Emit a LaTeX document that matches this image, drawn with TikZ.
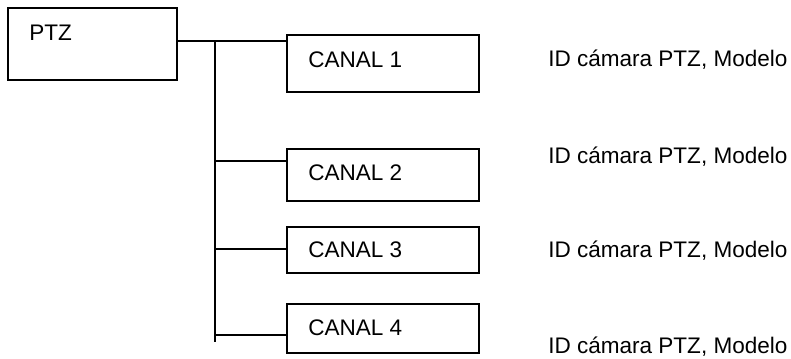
\documentclass[tikz,border=0pt]{standalone}
\usepackage{fontspec}
\setmainfont{Liberation Sans}
\newcommand{\fuente}{\fontsize{16.9pt}{20pt}\selectfont}
\tikzset{
  caja/.style={draw, line width=1.4pt, inner sep=0pt, minimum width=144pt},
  texto/.style={anchor=base west, inner sep=0.75pt, font=\fuente}
}
\begin{document}
\begin{tikzpicture}[x=0.75pt,y=0.75pt,yscale=-1,xscale=1]
    \useasboundingbox (0,0) rectangle (791,358);
    % cajas
    \node [caja, minimum width=126.75pt, minimum height=54pt] (ptz) at (92.5,44) {};
    \node [caja, minimum height=42.75pt] (canal1) at (383,63.5) {};
    \node [caja, minimum height=39pt] (canal2) at (383,175) {};
    \node [caja, minimum height=34.5pt] (canal3) at (383,250) {};
    \node [caja, minimum height=36.75pt] (canal4) at (383,328.5) {};
    % textos
    \node [texto] (tptz) at (28,40) {PTZ};
    \node [texto] (tcanal1) at (307,67) {CANAL 1};
    \node [texto] (tcanal2) at (307,180) {CANAL 2};
    \node [texto] (tcanal3) at (307,257) {CANAL 3};
    \node [texto] (tcanal4) at (307,335) {CANAL 4};
    \node [texto] (id1) at (547,66) {ID cámara PTZ, Modelo};
    \node [texto] (id2) at (547,163) {ID cámara PTZ, Modelo};
    \node [texto] (id3) at (547,257) {ID cámara PTZ, Modelo};
    \node [texto] (id4) at (547,353) {ID cámara PTZ, Modelo};
    % lineas
    \coordinate (j1) at (215,41);
    \coordinate (j2) at (215,161);
    \coordinate (j3) at (215,249);
    \coordinate (j4) at (215,335);
    \coordinate (fin) at (215,342);
    \draw [line width=1.4pt] (ptz.east |- j1) -- (j1 -| canal1.west) ;
    \draw [line width=1.4pt] (j1) -- (fin) ;
    \draw [line width=1.4pt] (j2) -- (j2 -| canal2.west) ;
    \draw [line width=1.4pt] (j3) -- (j3 -| canal3.west) ;
    \draw [line width=1.4pt] (j4) -- (j4 -| canal4.west) ;
\end{tikzpicture}
\end{document}
